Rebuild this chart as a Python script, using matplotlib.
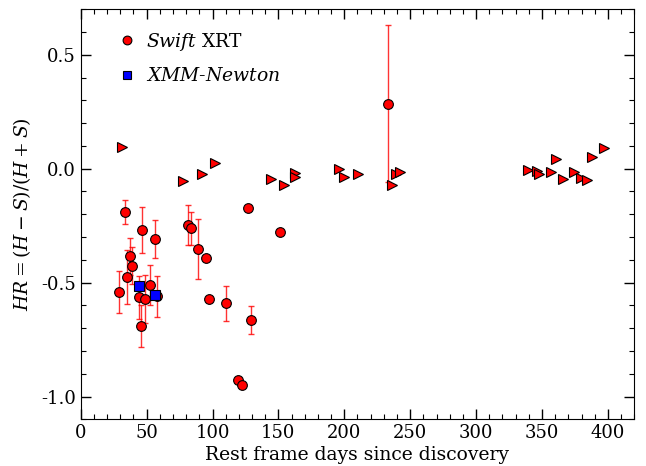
import matplotlib
matplotlib.use("Agg")
import matplotlib.pyplot as plt
from matplotlib.ticker import MultipleLocator

plt.rcParams['font.family'] = ['DejaVu Serif']
plt.rcParams['mathtext.fontset'] = 'dejavuserif'

# Swift XRT detections with error bars (day, HR, lower, upper)
swift_day = [33.9, 46.8, 56.6, 37.4, 39.2, 35.2, 28.9, 52.8, 44.3, 49.1, 57.9, 45.6,
             81.2, 84.0, 89.3, 110.1, 129.5, 232.8]
swift_hr = [-0.191, -0.268, -0.309, -0.385, -0.425, -0.476, -0.540, -0.510, -0.564, -0.571,
            -0.559, -0.689, -0.246, -0.260, -0.351, -0.590, -0.664, 0.286]
swift_lo = [-0.243, -0.370, -0.393, -0.465, -0.505, -0.596, -0.634, -0.599, -0.660, -0.679,
            -0.653, -0.781, -0.337, -0.337, -0.486, -0.667, -0.726, -0.059]
swift_hi = [-0.137, -0.169, -0.227, -0.304, -0.344, -0.358, -0.447, -0.421, -0.470, -0.468,
            -0.469, -0.599, -0.160, -0.188, -0.219, -0.513, -0.601, 0.629]

# Swift XRT points without error bars
swift2_day = [95.4, 97.6, 119.4, 122.5, 126.8, 151.3]
swift2_hr = [-0.393, -0.573, -0.927, -0.950, -0.173, -0.277]

# XMM-Newton
xmm_day = [44.0, 56.4]
xmm_hr = [-0.514, -0.553]

# limits (triangles)
lim_day = [31.4, 77.9, 91.9, 101.7, 144.3, 154.6, 162.7, 162.7, 195.6, 199.4, 210.6,
           236.1, 239.2, 242.4, 339.6, 346.2, 348.0, 356.9, 360.7, 365.7, 374.6, 379.2,
           383.9, 388.2, 396.8]
lim_hr = [0.095, -0.052, -0.023, 0.026, -0.045, -0.070, -0.017, -0.035, -0.001, -0.038,
          -0.023, -0.071, -0.024, -0.013, -0.006, -0.011, -0.023, -0.014, 0.041, -0.045,
          -0.013, -0.041, -0.049, 0.051, 0.089]

fig = plt.figure(figsize=(6.46, 4.66), dpi=100)
ax = fig.add_axes([0.1249, 0.1002, 0.857, 0.880])

yerr = [[h - l for h, l in zip(swift_hr, swift_lo)],
        [u - h for h, u in zip(swift_hr, swift_hi)]]
ax.errorbar(swift_day, swift_hr, yerr=yerr, fmt='none', ecolor='red', elinewidth=1,
            capsize=2.5, capthick=1, alpha=0.8, zorder=2)
ax.plot(swift_day + swift2_day, swift_hr + swift2_hr, 'o', color='red', mec='black',
        mew=0.8, ms=7, zorder=3, label=r'$\mathit{Swift}$ XRT')
ax.plot(lim_day, lim_hr, '>', color='red', mec='black', mew=0.8, ms=7.5, zorder=3)
ax.plot(xmm_day, xmm_hr, 's', color='blue', mec='black', mew=0.8, ms=6.5, zorder=4,
        label=r'$\mathit{XMM}$-$\mathit{Newton}$')

ax.set_xlim(0, 420)
ax.set_ylim(-1.1, 0.7)
ax.xaxis.set_major_locator(MultipleLocator(50))
ax.xaxis.set_minor_locator(MultipleLocator(10))
ax.yaxis.set_major_locator(MultipleLocator(0.5))
ax.yaxis.set_minor_locator(MultipleLocator(0.1))
ax.tick_params(which='both', direction='in', top=True, right=True, labelsize=13)
ax.tick_params(which='major', length=7, width=1)
ax.tick_params(which='minor', length=3.5, width=0.8)
ax.set_yticks([-1.0, -0.5, 0.0, 0.5])
ax.set_yticklabels(['-1.0', '-0.5', '0.0', '0.5'])

ax.set_xlabel('Rest frame days since discovery', fontsize=13.5, labelpad=3)
ax.set_ylabel(r'$HR = (H-S)/(H+S)$', fontsize=13.5, labelpad=6)

leg = ax.legend(loc='upper left', bbox_to_anchor=(0.033, 0.988), fontsize=13.5,
                frameon=False, handletextpad=0.4, labelspacing=0.75, handlelength=1.2,
                markerscale=0.9)

fig.savefig('out.png', dpi=100)
